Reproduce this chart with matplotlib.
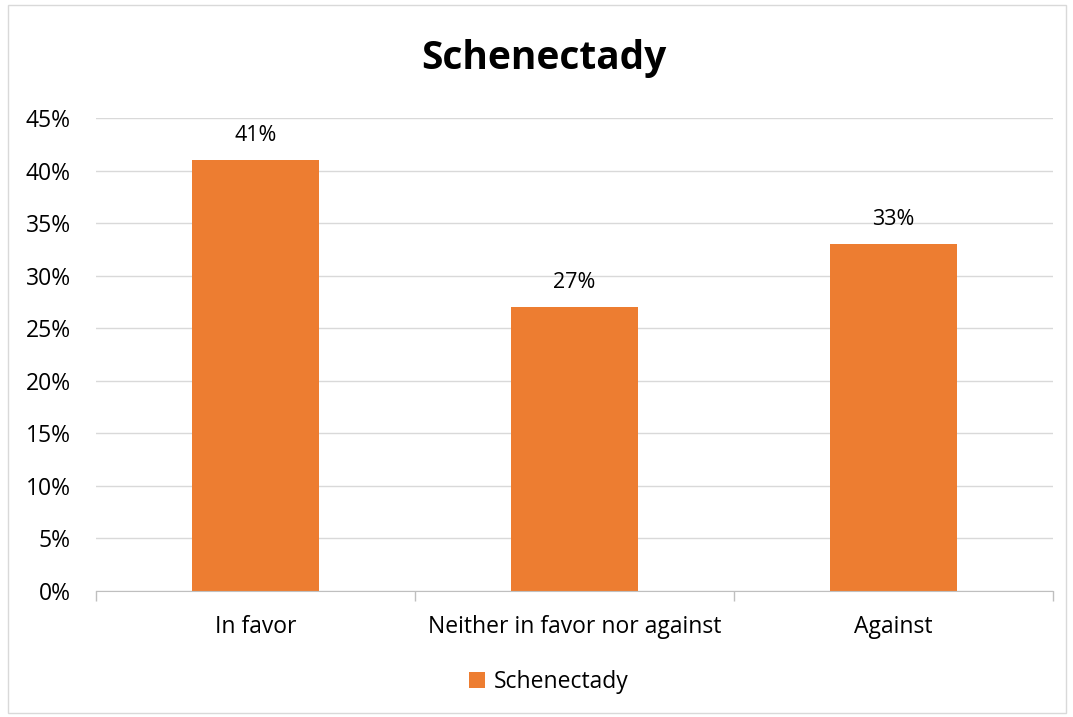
import matplotlib
matplotlib.use("Agg")
import matplotlib.pyplot as plt
from matplotlib.patches import Rectangle
from matplotlib.ticker import FixedLocator, NullFormatter

categories = ["In favor", "Neither in favor nor against", "Against"]
values = [41, 27, 33]
series_name = "Schenectady"
yticks = [0, 5, 10, 15, 20, 25, 30, 35, 40, 45]
color = "#ED7D31"

plt.rcParams['font.family'] = ['Open Sans', 'DejaVu Sans']

fig = plt.figure(figsize=(10.73, 7.17), dpi=100)
ax = fig.add_axes([96/1073, 1-591/717, (1053-96)/1073, (591-118)/717])

x = list(range(len(categories)))
bars = ax.bar(x, values, width=0.4, color=color, label=series_name, zorder=3)
for xi, v in zip(x, values):
    ax.annotate(f"{v}%", (xi, v), xytext=(0, 10), textcoords="offset points",
                ha="center", va="bottom", fontsize=15.5, color="#000000")

ax.set_xlim(-0.5, len(categories) - 0.5)
ax.set_ylim(0, 45)
ax.set_yticks(yticks)
ax.set_yticklabels([f"{t}%" for t in yticks], fontsize=16.5)
ax.tick_params(axis='y', length=0, pad=18)
ax.set_xticks(x)
ax.set_xticklabels(categories, fontsize=16.5)
ax.tick_params(axis='x', length=0, pad=17.5)
ax.xaxis.set_minor_locator(FixedLocator([-0.5, 0.5, 1.5, 2.5]))
ax.xaxis.set_minor_formatter(NullFormatter())
ax.tick_params(axis='x', which='minor', length=7, color="#BFBFBF", width=1)

ax.grid(axis='y', color="#D9D9D9", linewidth=1, zorder=0)
for s in ["top", "right", "left"]:
    ax.spines[s].set_visible(False)
ax.spines["bottom"].set_color("#BFBFBF")
ax.spines["bottom"].set_zorder(4)

fig.text(544/1073, 1-58/717, "Schenectady", ha="center", va="center",
         fontsize=28, fontweight="bold")

leg = fig.legend(handles=[bars], labels=[series_name], loc="center",
                 bbox_to_anchor=(549/1073, 1-682/717), frameon=False,
                 fontsize=16.5, handlelength=0.7, handleheight=0.7, handletextpad=0.4)

fig.patches.append(Rectangle((8/1073, 1-713/717), (1066-8)/1073, (713-5)/717,
                             transform=fig.transFigure, fill=False,
                             edgecolor="#D9D9D9", linewidth=1))

fig.savefig("out.png", dpi=100, facecolor="white")
